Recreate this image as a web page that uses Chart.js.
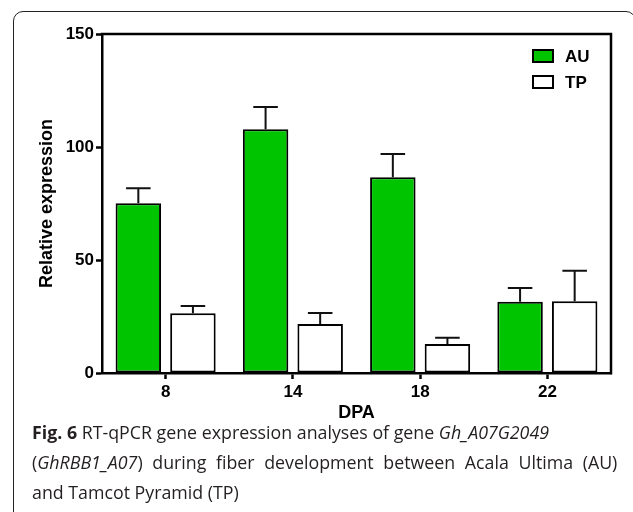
<!DOCTYPE html>
<html>
<head>
<meta charset="utf-8">
<script src="https://cdn.jsdelivr.net/npm/chart.js@4.4.1/dist/chart.umd.min.js"></script>
<style>
  html, body { margin: 0; padding: 0; background: #fff; }
  body { width: 633px; height: 512px; position: relative; overflow: hidden; }
  #frame {
    position: absolute; left: 13px; top: 11px; width: 623px; height: 540px;
    border: 1.5px solid #222; border-radius: 10px; box-sizing: border-box;
  }
  #plot { position: absolute; left: 0; top: 0; }
  #caption {
    position: absolute; left: 32px; top: 417px; width: 600px;
    font-family: "Open Sans", "Noto Sans", sans-serif; font-size: 17.8px;
    line-height: 30px; color: #231f20; white-space: nowrap;
  }
  #caption b { font-weight: 700; }
  #caption .wide { word-spacing: 5px; }
</style>
</head>
<body>
<div id="frame"></div>
<canvas id="plot" width="633" height="425"></canvas>
<div id="caption"><b>Fig. 6</b> RT-qPCR gene expression analyses of gene <i>Gh_A07G2049</i><br><span class="wide">(<i>GhRBB1_A07</i>) during fiber development between Acala Ultima (AU)</span><br>and Tamcot Pyramid (TP)</div>
<script>
// Days post anthesis and mean relative expression (with SD) per cultivar
const dpa = ["8", "14", "18", "22"];
const auMean = [75.1, 107.8, 86.6, 31.5];
const auErr = [6.6, 9.9, 10.3, 6.1];
const tpMean = [26.4, 21.7, 12.8, 31.8];
const tpErr = [3.2, 4.8, 2.8, 13.4];
const yTicks = [0, 50, 100, 150];

const GREEN = "#00c400";
const FONT = "'Liberation Sans', Arial, sans-serif";

// Upward error bars with caps, placed from each bar's own element
const errorBars = {
  id: "errorBars",
  afterDatasetsDraw(chart) {
    const ctx = chart.ctx;
    const y = chart.scales.y;
    ctx.save();
    ctx.strokeStyle = "#111";
    ctx.lineWidth = 2;
    chart.data.datasets.forEach((ds, i) => {
      const meta = chart.getDatasetMeta(i);
      meta.data.forEach((bar, j) => {
        const top = y.getPixelForValue(ds.data[j] + ds.errors[j]);
        const base = y.getPixelForValue(ds.data[j]);
        const half = bar.width * 0.27;
        ctx.beginPath();
        ctx.moveTo(bar.x, base);
        ctx.lineTo(bar.x, top);
        ctx.moveTo(bar.x - half, top);
        ctx.lineTo(bar.x + half, top);
        ctx.stroke();
      });
    });
    ctx.restore();
  }
};

// Closes the plot box (top and right edges) and draws the in-plot legend
const frameAndLegend = {
  id: "frameAndLegend",
  afterDraw(chart) {
    const ctx = chart.ctx;
    const a = chart.chartArea;
    ctx.save();
    ctx.strokeStyle = "#000";
    ctx.lineWidth = 2.5;
    ctx.beginPath();
    ctx.moveTo(a.left - 1.25, a.top);
    ctx.lineTo(a.right, a.top);
    ctx.lineTo(a.right, a.bottom + 1.25);
    ctx.stroke();

    ctx.font = "bold 17px " + FONT;
    ctx.textBaseline = "middle";
    ctx.textAlign = "left";
    chart.data.datasets.forEach((ds, i) => {
      const sx = a.right - 78, sy = a.top + 16 + i * 26;
      ctx.fillStyle = ds.backgroundColor;
      ctx.fillRect(sx, sy, 20, 12);
      ctx.lineWidth = 2;
      ctx.strokeStyle = "#000";
      ctx.strokeRect(sx, sy, 20, 12);
      ctx.fillStyle = "#000";
      ctx.fillText(ds.label, a.right - 46, sy + 7);
    });
    ctx.restore();
  }
};

new Chart(document.getElementById("plot"), {
  type: "bar",
  data: {
    labels: dpa,
    datasets: [
      { label: "AU", data: auMean, errors: auErr, backgroundColor: GREEN,
        borderColor: "#000", borderWidth: 2, borderSkipped: false },
      { label: "TP", data: tpMean, errors: tpErr, backgroundColor: "#ffffff",
        borderColor: "#000", borderWidth: 2, borderSkipped: false }
    ]
  },
  options: {
    responsive: false,
    animation: false,
    devicePixelRatio: 1,
    categoryPercentage: 0.858,
    barPercentage: 0.833,
    layout: { padding: { left: 0, top: 34, right: 22, bottom: 0 } },
    plugins: { legend: { display: false }, tooltip: { enabled: false } },
    scales: {
      x: {
        grid: { display: true, drawOnChartArea: false, offset: false, drawTicks: true,
                tickLength: 6, tickWidth: 2.5, tickColor: "#000" },
        border: { display: true, color: "#000", width: 2.5 },
        ticks: { color: "#000", font: { family: FONT, size: 17, weight: "bold" }, padding: 3.5 },
        title: { display: true, text: "DPA", color: "#000",
                 font: { family: FONT, size: 18, weight: "bold" }, padding: { top: 0, bottom: 1 } },
        afterFit(s) { s.height = 52; }
      },
      y: {
        min: 0, max: 150,
        grid: { display: true, drawOnChartArea: false, drawTicks: true,
                tickLength: 6, tickWidth: 2.5, tickColor: "#000" },
        border: { display: true, color: "#000", width: 2.5 },
        afterBuildTicks(s) { s.ticks = yTicks.map(v => ({ value: v })); },
        ticks: { color: "#000", font: { family: FONT, size: 17, weight: "bold" }, padding: 2 },
        title: { display: true, text: "Relative expression", color: "#000",
                 font: { family: FONT, size: 18, weight: "bold" }, padding: { top: 36, bottom: 0 } },
        afterFit(s) { s.width = 102; }
      }
    }
  },
  plugins: [errorBars, frameAndLegend]
});
</script>
</body>
</html>
